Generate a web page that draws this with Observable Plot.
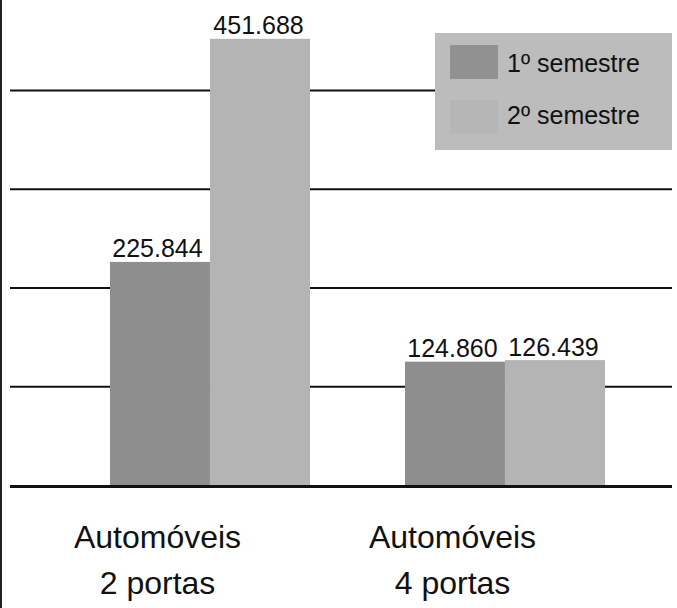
<!DOCTYPE html>
<html>
<head>
<meta charset="utf-8">
<script src="https://cdn.jsdelivr.net/npm/d3@7"></script>
<script src="https://cdn.jsdelivr.net/npm/@observablehq/plot@0.6"></script>
<style>
  html, body { margin: 0; padding: 0; background: #fff; }
  #wrap { position: relative; width: 677px; height: 608px; font-family: "Liberation Sans", Arial, sans-serif; }
  #edge { position: absolute; left: 0; top: 0; width: 2px; height: 608px; background: #222; }
  #legend { position: absolute; left: 435px; top: 33px; width: 237px; height: 117px; background: #bcbcbc; }
  .sw { position: absolute; left: 15px; width: 48px; height: 34px; }
  .lt { position: absolute; left: 72px; font-size: 25px; line-height: 25px; color: #111; white-space: nowrap; }
</style>
</head>
<body>
<div id="wrap"><div id="edge"></div></div>
<script>
// Data
const categories = ["2 portas", "4 portas"];
const semesters = ["1º semestre", "2º semestre"];
const values1 = [225844, 124860];
const values2 = [451688, 126439];
const valueLabels1 = ["225.844", "124.860"];
const valueLabels2 = ["451.688", "126.439"];
const gridTicks = [100000, 200000, 300000, 400000];
const colors = ["#8e8e8e", "#b4b4b4"];

const rows = [];
categories.forEach((c, i) => {
  rows.push({cat: c, sem: semesters[0], value: values1[i], label: valueLabels1[i]});
  rows.push({cat: c, sem: semesters[1], value: values2[i], label: valueLabels2[i]});
});

const W = 677, H = 608;
const mL = 10, mR = 5, mT = 0, mB = 123;
const pIn = 0.323, pOut = 0.2816;
const step = (W - mL - mR) / (categories.length - pIn + 2 * pOut);
const bw = step * (1 - pIn);
const half = bw / 2;

const s1 = rows.filter(d => d.sem === semesters[0]);
const s2 = rows.filter(d => d.sem === semesters[1]);

const chart = Plot.plot({
  width: W, height: H,
  marginLeft: mL, marginRight: mR, marginTop: mT, marginBottom: mB,
  style: {fontFamily: "'Liberation Sans', Arial, sans-serif", background: "transparent"},
  x: {domain: categories, paddingInner: pIn, paddingOuter: pOut, align: 0.6, axis: null},
  y: {domain: [0, 491000], axis: null},
  marks: [
    Plot.ruleY(gridTicks, {stroke: "#111", strokeWidth: 2}),
    Plot.barY(s1, {x: "cat", y: "value", fill: colors[0], insetRight: half}),
    Plot.barY(s2, {x: "cat", y: "value", fill: colors[1], insetLeft: half}),
    Plot.ruleY([0], {stroke: "#111", strokeWidth: 3, dy: 1}),
    Plot.text(s1, {x: "cat", y: "value", text: "label", dx: -half / 2 - 3, dy: -5, lineAnchor: "bottom", fontSize: 25, fill: "#111"}),
    Plot.text(s2, {x: "cat", y: "value", text: "label", dx: half / 2 - 2, dy: -5, lineAnchor: "bottom", fontSize: 25, fill: "#111"}),
    Plot.text(categories, {x: d => d, text: d => "Automóveis\n" + d, frameAnchor: "bottom", lineAnchor: "top", dy: 30, dx: -53, fontSize: 32, lineHeight: 1.44, fill: "#111"})
  ]
});

const wrap = document.getElementById("wrap");
chart.style.position = "absolute";
chart.style.left = "0";
chart.style.top = "0";
wrap.insertBefore(chart, wrap.firstChild);

// Legend
const legend = document.createElement("div");
legend.id = "legend";
const swTops = [12, 67];
const txtTops = [18, 70];
const swColors = ["#919191", "#b6b6b6"];
semesters.forEach((s, i) => {
  const sw = document.createElement("div");
  sw.className = "sw";
  sw.style.top = swTops[i] + "px";
  sw.style.background = swColors[i];
  legend.appendChild(sw);
  const t = document.createElement("div");
  t.className = "lt";
  t.style.top = txtTops[i] + "px";
  t.textContent = s;
  legend.appendChild(t);
});
wrap.appendChild(legend);
</script>
</body>
</html>
